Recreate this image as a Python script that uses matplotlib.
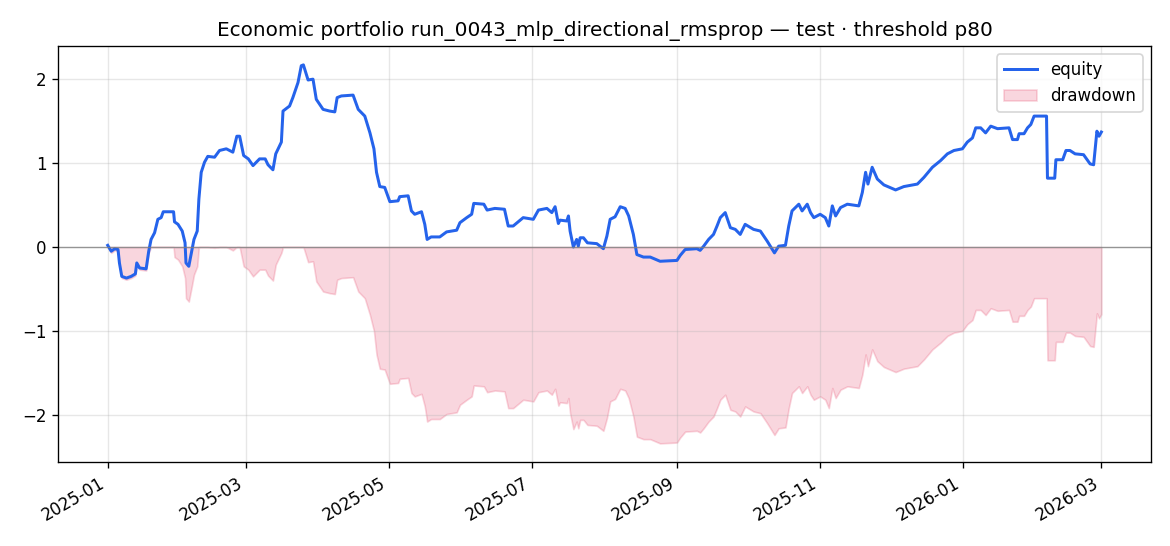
import matplotlib
matplotlib.use("Agg")
import matplotlib.pyplot as plt
import matplotlib.dates as mdates
import numpy as np
import pandas as pd

# equity, days counted from 2025-01-01
start = "2025-01-01"
days = [0, 1.5, 3, 4.4, 5, 6, 8, 10, 11.8, 12.4, 13.6, 16.4, 17.5, 18.5, 20, 21.4, 22.8, 23.7,
        28.1, 28.5, 30, 31.8, 33, 33.4, 34.6, 36, 36.8, 38.2, 38.9, 39.9, 41.3, 42.7, 45.6,
        47.7, 50.6, 53.4, 55.1, 56.3, 58, 60, 62, 64.8, 67.2, 68.4, 70.5, 71.7, 74.1, 74.8,
        77.6, 79, 81.2, 82.6, 83.5, 85.5, 87.6, 89, 91.9, 94.7, 96.9, 97.9, 99.7, 104.7,
        106.9, 109.7, 111.9, 113.6, 114.7, 116.1, 118.2, 120.4, 123.9, 124.6, 128.2, 129.6,
        131, 133.9, 135.3, 136.3, 138, 141.7, 144.6, 148.9, 150.3, 153.2, 155.3, 156.2,
        160.5, 161.9, 165.2, 169.3, 170.9, 173, 177.3, 181.6, 183.8, 187.4, 189.5, 190.9,
        192.3, 193, 195.9, 196.6, 197.3, 198.7, 200.1, 200.8, 201.6, 203, 204.7, 208.7,
        211.5, 213, 214.4, 216.5, 218.7, 220.8, 222.3, 224.3, 225.8, 228.6, 231.5, 235.7,
        242.9, 244.3, 246.4, 251.4, 252.8, 254.3, 256.4, 258.5, 260, 261.4, 263.5, 265.7,
        267.8, 269.9, 272, 275.6, 278.5, 281.4, 284.5, 286.3, 289.2, 290.6, 292, 294.9,
        296.3, 298.5, 299.9, 301.3, 304, 306.2, 307.7, 309.2, 310.6, 312.7, 315.6, 320.5,
        322, 323.4, 324.4, 326.2, 328.4, 331.2, 336.2, 339.7, 345.5, 348.3, 351.9, 355.4,
        358.3, 361.1, 364.7, 366.8, 369, 370.4, 372.5, 374.6, 376.8, 379.7, 384.6, 386.1,
        388.2, 388.9, 391, 392.5, 393.9, 395.3, 400.6, 401, 404.1, 404.6, 407.5, 408.9,
        410.6, 412.8, 416.4, 419.2, 420.7, 422.1, 423, 424]
equity = [0.02, -0.05, -0.02, -0.03, -0.19, -0.35, -0.37, -0.35, -0.32, -0.19, -0.25, -0.26,
          -0.05, 0.09, 0.17, 0.33, 0.35, 0.42, 0.42, 0.30, 0.27, 0.19, 0.05, -0.19, -0.23,
          -0.03, 0.09, 0.19, 0.57, 0.89, 1.01, 1.08, 1.07, 1.15, 1.17, 1.13, 1.32, 1.32, 1.09,
          1.05, 0.97, 1.05, 1.05, 0.98, 0.92, 1.11, 1.25, 1.62, 1.68, 1.78, 1.96, 2.16, 2.17,
          1.99, 2.00, 1.76, 1.64, 1.62, 1.61, 1.78, 1.80, 1.81, 1.64, 1.56, 1.36, 1.17, 0.89,
          0.72, 0.71, 0.54, 0.55, 0.60, 0.61, 0.43, 0.39, 0.42, 0.27, 0.09, 0.12, 0.12, 0.18,
          0.20, 0.29, 0.35, 0.39, 0.52, 0.51, 0.44, 0.46, 0.45, 0.25, 0.25, 0.35, 0.33, 0.44,
          0.46, 0.41, 0.48, 0.28, 0.32, 0.31, 0.37, 0.19, 0.00, 0.09, 0.01, 0.11, 0.11, 0.05,
          0.04, -0.02, 0.13, 0.33, 0.36, 0.48, 0.46, 0.37, 0.15, -0.09, -0.12, -0.12, -0.17,
          -0.16, -0.10, -0.03, -0.02, -0.04, 0.01, 0.09, 0.15, 0.25, 0.35, 0.41, 0.23, 0.21,
          0.15, 0.27, 0.21, 0.19, 0.07, -0.07, 0.01, 0.02, 0.25, 0.43, 0.51, 0.43, 0.51, 0.41,
          0.35, 0.39, 0.35, 0.25, 0.49, 0.37, 0.47, 0.51, 0.49, 0.65, 0.89, 0.75, 0.95, 0.81,
          0.74, 0.68, 0.72, 0.75, 0.83, 0.95, 1.03, 1.11, 1.15, 1.17, 1.25, 1.30, 1.42, 1.42,
          1.36, 1.44, 1.41, 1.42, 1.28, 1.28, 1.35, 1.35, 1.42, 1.46, 1.56, 1.56, 0.82, 0.82,
          1.04, 1.04, 1.15, 1.15, 1.11, 1.10, 0.99, 0.98, 1.38, 1.32, 1.37]

dates = pd.Timestamp(start) + pd.to_timedelta(days, unit="D")
eq = np.array(equity)
drawdown = eq - np.maximum.accumulate(eq)

fig, ax = plt.subplots(figsize=(9.75, 4.55), dpi=120)
ax.plot(dates, eq, color="#2563eb", lw=1.8, label="equity")
ax.fill_between(dates, drawdown, 0, color="#e11d48", alpha=0.18, label="drawdown")
ax.axhline(0, color="grey", lw=0.8, alpha=0.8)

ax.xaxis.set_major_locator(mdates.MonthLocator(bymonth=[1, 3, 5, 7, 9, 11]))
ax.xaxis.set_major_formatter(mdates.DateFormatter("%Y-%m"))
ax.grid(alpha=0.3)
ax.legend(loc="upper right")
ax.set_title("Economic portfolio run_0043_mlp_directional_rmsprop \u2014 test \u00b7 threshold p80")
fig.autofmt_xdate()
fig.subplots_adjust(left=0.0496, right=0.9838, top=0.9158, bottom=0.1533)
fig.savefig("out.png")
